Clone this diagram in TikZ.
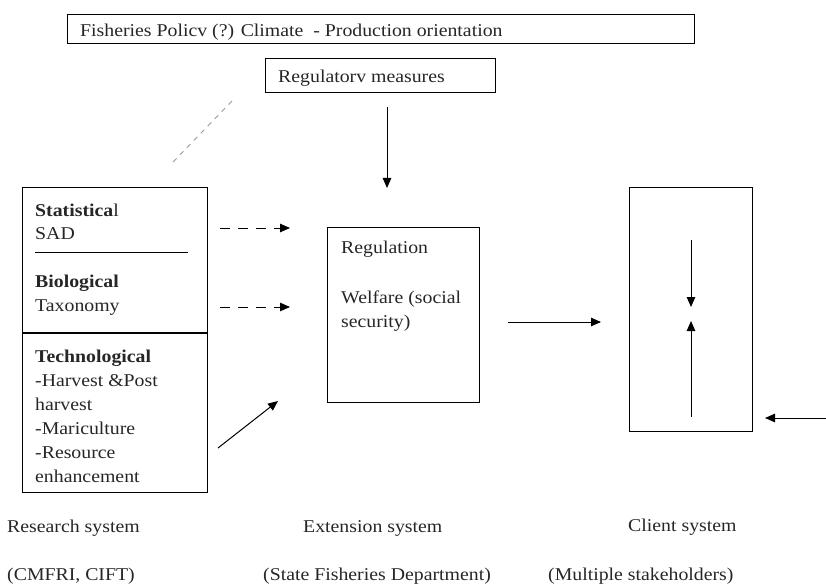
\documentclass[tikz,border=0pt]{standalone}
\usepackage{fontspec}
\setmainfont{Liberation Serif}[FakeStretch=1.1]
\usetikzlibrary{arrows.meta}
\begin{document}
\begin{tikzpicture}[x=1pt,y=-1pt,
  every node/.style={font=\fontsize{18}{24}\selectfont, inner sep=0pt, text=black!85},
  frame/.style={draw, line width=1.1pt, inner sep=0pt, anchor=north west},
  txt/.style={anchor=base west},
  arr/.style={-{Triangle[length=10pt,width=8.5pt]}, line width=1pt},
  dasharr/.style={arr, dash pattern=on 10pt off 8pt}]
\useasboundingbox (0,0) rectangle (826,585);

% policy frame
\node[frame, minimum width=627pt, minimum height=29pt] (policy) at (67,14) {};
\node[txt] (policytxt) at (80,37) {Fisheries Policv (?) Climate\ \ - Production orientation};

% regulatory measures
\node[frame, minimum width=230pt, minimum height=34pt] (regmeas) at (265,58) {};
\node[txt] (regtxt) at (278,83) {Regulatorv measures};

% faint dashed link
\coordinate (d1) at (173,162);
\coordinate (d2) at (233,100);
\draw[black!40, line width=0.9pt, dash pattern=on 5pt off 5pt] (d1) -- (d2);

% research system block
\node[frame, minimum width=185pt, minimum height=305pt] (research) at (22,187) {};
\coordinate (rs1) at (35,252);
\coordinate (rs2) at (188,252);
\draw[line width=1pt] (rs1) -- (rs2);
\coordinate (rd1) at (22,333);
\coordinate (rd2) at (207,333);
\draw[line width=1.1pt] (rd1) -- (rd2);
\node[txt] (t1) at (35,217) {\textbf{Statistica}l};
\node[txt] (t2) at (35,240) {SAD};
\node[txt] (t3) at (35,287) {\textbf{Biological}};
\node[txt] (t4) at (35,311) {Taxonomy};
\node[txt] (t5) at (35,362) {\textbf{Technological}};
\node[txt] (t6) at (35,386) {-Harvest \&Post};
\node[txt] (t7) at (35,410) {harvest};
\node[txt] (t8) at (35,434) {-Mariculture};
\node[txt] (t9) at (35,458) {-Resource};
\node[txt] (t10) at (35,482) {enhancement};

% extension system block
\node[frame, minimum width=152pt, minimum height=175pt] (extension) at (327,227) {};
\node[txt] (e1) at (341,253) {Regulation};
\node[txt] (e2) at (341,303) {Welfare (social};
\node[txt] (e3) at (341,327) {security)};

% client system block
\node[frame, minimum width=123pt, minimum height=244pt] (client) at (629,187) {};

% connectors
\coordinate (a1s) at (387,107);  \coordinate (a1e) at (387,188);
\draw[arr] (a1s) -- (a1e);
\coordinate (a2s) at (220,228);  \coordinate (a2e) at (290,228);
\draw[dasharr] (a2s) -- (a2e);
\coordinate (a3s) at (220,307);  \coordinate (a3e) at (290,307);
\draw[dasharr] (a3s) -- (a3e);
\coordinate (a4s) at (218,448);  \coordinate (a4e) at (278,401);
\draw[arr] (a4s) -- (a4e);
\coordinate (a5s) at (508,322);  \coordinate (a5e) at (601,322);
\draw[arr] (a5s) -- (a5e);
\coordinate (a6s) at (691,240);  \coordinate (a6e) at (691,307);
\draw[arr] (a6s) -- (a6e);
\coordinate (a7s) at (691,417);  \coordinate (a7e) at (691,321);
\draw[arr] (a7s) -- (a7e);
\coordinate (a8s) at (826,418);  \coordinate (a8e) at (765,418);
\draw[arr] (a8s) -- (a8e);

% system captions
\node[txt] (c1) at (7,532) {Research system};
\node[txt] (c2) at (303,532) {Extension system};
\node[txt] (c3) at (628,531) {Client system};
\node[txt] (c4) at (7,580) {(CMFRI, CIFT)};
\node[txt] (c5) at (263,580) {(State Fisheries Department)};
\node[txt] (c6) at (548,580) {(Multiple stakeholders)};
\end{tikzpicture}
\end{document}
